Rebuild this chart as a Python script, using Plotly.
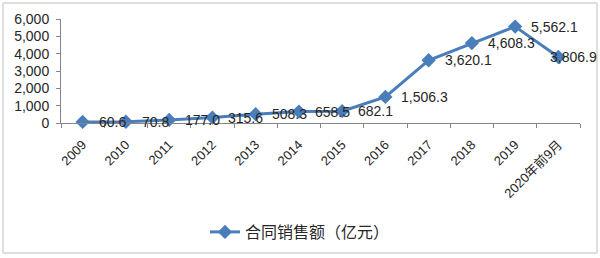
import plotly.graph_objects as go

categories = ["2009", "2010", "2011", "2012", "2013", "2014", "2015", "2016",
              "2017", "2018", "2019", "2020年前9月"]
sales = [60.6, 70.8, 177.0, 315.6, 508.3, 658.5, 682.1, 1506.3,
         3620.1, 4608.3, 5562.1, 3806.9]
series_name = "合同销售额（亿元）"
y_ticks = [0, 1000, 2000, 3000, 4000, 5000, 6000]

W, H = 600, 258
L, R, T, B = 61, 20, 19, 135
pw, ph = W - L - R, H - T - B

fontfam = "Liberation Sans, Noto Sans CJK SC, sans-serif"
blue = "#4A7EBB"
txt = "#262626"

fig = go.Figure()
fig.add_trace(go.Scatter(
    x=categories, y=sales, name=series_name,
    mode="lines+markers",
    line=dict(color=blue, width=3),
    marker=dict(symbol="diamond", size=11, color=blue),
    cliponaxis=False,
))

# data labels to the right of each point (last one pulled back inside the chart)
for i, v in enumerate(sales):
    last = i == len(categories) - 1
    fig.add_annotation(
        x=i, y=v, xref="x", yref="y", text=f"{v:,.1f}",
        showarrow=False, xanchor="left", yanchor="middle",
        xshift=-10 if last else 14, yshift=0,
        font=dict(family=fontfam, size=14, color=txt),
    )

def px2x(p):
    return (p - L) / pw

def px2y(p):
    return (T + ph - p) / ph

fig.add_shape(type="rect", xref="paper", yref="paper",
              x0=px2x(3), x1=px2x(597), y0=px2y(253), y1=px2y(3),
              line=dict(color="#BFBFBF", width=1), layer="below")

fig.update_layout(
    width=W, height=H,
    margin=dict(l=L, r=R, t=T, b=B),
    paper_bgcolor="white", plot_bgcolor="white",
    font=dict(family=fontfam, size=13, color=txt),
    showlegend=True,
    legend=dict(orientation="h", xref="container", yref="container",
                x=0.5, xanchor="center", y=1 - 232 / H, yanchor="middle",
                font=dict(family="Noto Sans CJK SC, sans-serif", size=16, color=txt),
                bgcolor="rgba(0,0,0,0)"),
    xaxis=dict(type="category", range=[-0.5, len(categories) - 0.5],
               tickson="boundaries", ticks="outside", ticklen=4,
               tickcolor="#868686", showline=True, linecolor="#868686",
               linewidth=1, showgrid=False, tickangle=-45,
               ticklabelstandoff=8,
               tickfont=dict(family="Liberation Sans, Noto Sans CJK SC", size=13, color=txt)),
    yaxis=dict(range=[0, 6000], tickvals=y_ticks,
               ticktext=[f"{v:,}" for v in y_ticks],
               ticks="outside", ticklen=4, tickcolor="#868686",
               showline=True, linecolor="#868686", linewidth=1,
               showgrid=False, zeroline=False, ticklabelstandoff=4,
               tickfont=dict(family=fontfam, size=14, color=txt)),
)

fig.write_html("out.html")
